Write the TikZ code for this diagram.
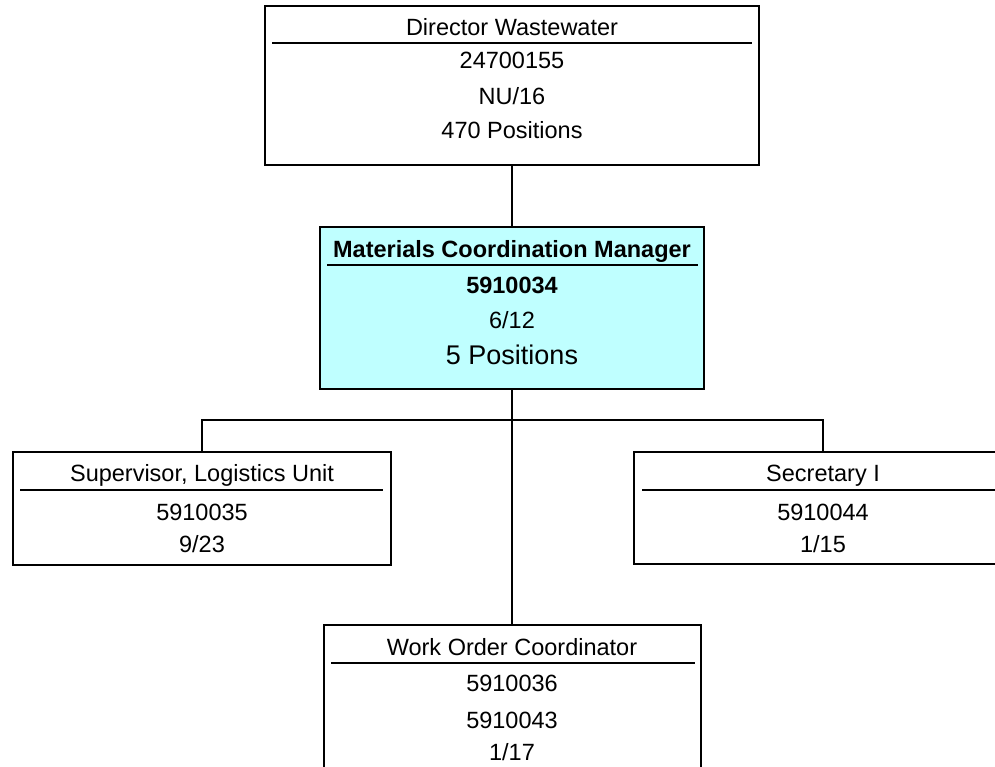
\documentclass[tikz,border=0pt]{standalone}
\usepackage{fontspec}
\setmainfont{Liberation Sans}
\definecolor{mgrfill}{RGB}{191,255,255}
\begin{document}
\begin{tikzpicture}[x=1pt,y=-1pt,
  box/.style={draw=black, line width=2pt, inner sep=0pt, fill=white},
  rule/.style={line width=2pt},
  wire/.style={line width=2.4pt},
  lbl/.style={font=\fontsize{23.5}{27}\selectfont, inner sep=0pt, anchor=base},
  big/.style={font=\fontsize{27}{31}\selectfont, inner sep=0pt, anchor=base},
]
\useasboundingbox (0,0) rectangle (995,767);
\clip (0,0) rectangle (995,767);

% boxes
\node[box, minimum width=494pt, minimum height=159pt] (dir) at (512,85.5) {};
\node[box, fill=mgrfill, minimum width=384pt, minimum height=162pt] (mgr) at (512,308) {};
\node[box, minimum width=378pt, minimum height=113pt] (sup) at (202,508.5) {};
\node[box, minimum width=378pt, minimum height=112pt] (sec) at (823,508) {};
\node[box, minimum width=377pt, minimum height=180pt] (wo) at (512,715) {};

% connectors
\draw[wire] (dir.south) -- (mgr.north);
\draw[wire] (mgr.south) -- (wo.north);
\draw[wire] (sup.north) -- ++(0,-31) coordinate (busL) -| (sec.north);

% title rules
\draw[rule] (272,43) -- (752,43);
\draw[rule] (327,265) -- (698,265);
\draw[rule] (20,490) -- (383,490);
\draw[rule] (642,490) -- (1005,490);
\draw[rule] (331,663) -- (695,663);

% Director
\node[lbl] (d1) at (512,36) {Director Wastewater};
\node[lbl] (d2) at (512,69) {24700155};
\node[lbl] (d3) at (512,105) {NU/16};
\node[lbl] (d4) at (512,139) {470 Positions};

% Manager
\node[lbl, font=\fontsize{23.5}{27}\selectfont\bfseries] (m1) at (512,258) {Materials Coordination Manager};
\node[lbl, font=\fontsize{23.5}{27}\selectfont\bfseries] (m2) at (512,293) {5910034};
\node[lbl] (m3) at (512,328) {6/12};
\node[big] (m4) at (512,364) {5 Positions};

% Supervisor
\node[lbl] (s1) at (202,481) {Supervisor, Logistics Unit};
\node[lbl] (s2) at (202,520) {5910035};
\node[lbl] (s3) at (202,552) {9/23};

% Secretary
\node[lbl] (c1) at (823,481) {Secretary I};
\node[lbl] (c2) at (823,520) {5910044};
\node[lbl] (c3) at (823,552) {1/15};

% Work order
\node[lbl] (w1) at (512,655) {Work Order Coordinator};
\node[lbl] (w2) at (512,691) {5910036};
\node[lbl] (w3) at (512,728) {5910043};
\node[lbl] (w4) at (512,760) {1/17};
\end{tikzpicture}
\end{document}
